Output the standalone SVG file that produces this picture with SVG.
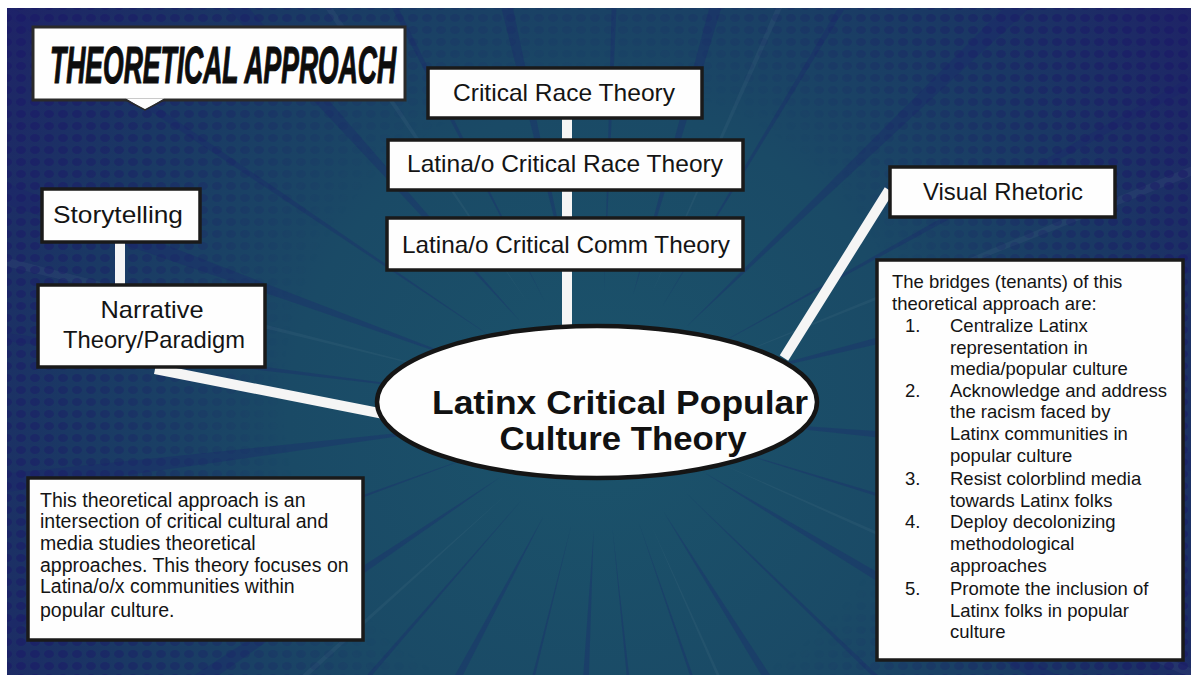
<svg xmlns="http://www.w3.org/2000/svg" xmlns:xlink="http://www.w3.org/1999/xlink" width="1191" height="675" viewBox="0 0 1191 675">
<defs>
<style>
.box{fill:#fefefe;stroke:#1a1a1a;stroke-width:3.5}
.lbl{font-family:"Liberation Sans",Arial,sans-serif;font-size:24px;fill:#141414;text-anchor:middle}
.body{font-family:"Liberation Sans",Arial,sans-serif;font-size:19.5px;fill:#141414}
.conn{stroke:#f5f5f5;stroke-width:10;stroke-linecap:butt;fill:none}
.ray{fill:#1c1f70;opacity:0.28}
.rayl{fill:#ffffff;opacity:0.04}
</style>
<clipPath id="bgclip"><rect x="7" y="8" width="1184" height="667"/></clipPath>
<radialGradient id="bg" cx="600" cy="420" r="740" gradientUnits="userSpaceOnUse">
<stop offset="0" stop-color="#1b536b"/>
<stop offset="0.42" stop-color="#1a4a66"/>
<stop offset="0.72" stop-color="#1a3864"/>
<stop offset="1" stop-color="#1f2167"/>
</radialGradient>
<radialGradient id="mg" cx="600" cy="400" r="700" gradientUnits="userSpaceOnUse">
<stop offset="0.45" stop-color="#000"/>
<stop offset="1" stop-color="#fff"/>
</radialGradient>
<mask id="dotmask"><rect x="0" y="0" width="1191" height="675" fill="url(#mg)"/></mask>
<pattern id="dots" x="0" y="0" width="14" height="12" patternUnits="userSpaceOnUse">
<ellipse cx="7" cy="6" rx="5" ry="4" fill="#1b1a68"/>
</pattern>
<polygon id="ray" points="120,0 950,-16 950,16"/>
<polygon id="rayn" points="120,0 950,-7 950,7"/>
</defs>
<rect width="1191" height="675" fill="#ffffff"/>
<g id="background" clip-path="url(#bgclip)">
<rect x="7" y="8" width="1184" height="667" fill="url(#bg)"/>
<g transform="translate(600,410)">
<use href="#ray" class="ray" transform="rotate(5)"/>
<use href="#rayn" class="ray" transform="rotate(17)"/>
<use href="#ray" class="ray" transform="rotate(31)"/>
<use href="#rayn" class="ray" transform="rotate(44)"/>
<use href="#ray" class="ray" transform="rotate(58)"/>
<use href="#rayn" class="ray" transform="rotate(71)"/>
<use href="#rayn" class="ray" transform="rotate(84)"/>
<use href="#ray" class="ray" transform="rotate(93)"/>
<use href="#rayn" class="ray" transform="rotate(104)"/>
<use href="#ray" class="ray" transform="rotate(118)"/>
<use href="#rayn" class="ray" transform="rotate(131)"/>
<use href="#ray" class="ray" transform="rotate(146)"/>
<use href="#rayn" class="ray" transform="rotate(160)"/>
<use href="#ray" class="ray" transform="rotate(173)"/>
<use href="#rayn" class="ray" transform="rotate(187)"/>
<use href="#ray" class="ray" transform="rotate(200)"/>
<use href="#rayn" class="ray" transform="rotate(214)"/>
<use href="#ray" class="ray" transform="rotate(228)"/>
<use href="#rayn" class="ray" transform="rotate(243)"/>
<use href="#ray" class="ray" transform="rotate(257)"/>
<use href="#rayn" class="ray" transform="rotate(272)"/>
<use href="#ray" class="ray" transform="rotate(286)"/>
<use href="#rayn" class="ray" transform="rotate(301)"/>
<use href="#ray" class="ray" transform="rotate(316)"/>
<use href="#rayn" class="ray" transform="rotate(331)"/>
<use href="#ray" class="ray" transform="rotate(346)"/>
<use href="#rayn" class="rayl" transform="rotate(24)"/>
<use href="#rayn" class="rayl" transform="rotate(66)"/>
<use href="#rayn" class="rayl" transform="rotate(138)"/>
<use href="#rayn" class="rayl" transform="rotate(194)"/>
<use href="#rayn" class="rayl" transform="rotate(236)"/>
<use href="#rayn" class="rayl" transform="rotate(294)"/>
<use href="#rayn" class="rayl" transform="rotate(338)"/>
</g>
<rect x="7" y="8" width="1184" height="667" fill="url(#dots)" mask="url(#dotmask)" opacity="0.7"/>
</g>
<g id="connectors">
<line class="conn" x1="567" y1="116" x2="567" y2="142"/>
<line class="conn" x1="567" y1="188" x2="567" y2="220"/>
<line class="conn" x1="567" y1="268" x2="567" y2="332"/>
<line class="conn" x1="120" y1="240" x2="120" y2="287"/>
<line class="conn" x1="155" y1="369" x2="384" y2="414" stroke-width="11"/>
<line class="conn" x1="889" y1="190" x2="784" y2="358"/>
</g>
<g id="title">
<rect x="33" y="27" width="372" height="73" fill="#fefefe" stroke="#2a2a2a" stroke-width="3"/>
<polygon points="126,98.5 164,98.5 145,110" fill="#fefefe"/>
<polyline points="126,100 145,110 164,100" fill="none" stroke="#2a2a2a" stroke-width="1.5"/>
<text transform="translate(50,83) scale(0.51,1)" x="0" y="0" font-family="Liberation Sans, Arial, sans-serif" font-size="52" font-weight="bold" font-style="italic" fill="#0d0d0d" stroke="#0d0d0d" stroke-width="1.2">THEORETICAL APPROACH</text>
</g>
<g id="crt">
<rect class="box" x="428" y="68" width="274" height="50"/>
<text class="lbl" x="564" y="101" textLength="222" lengthAdjust="spacingAndGlyphs">Critical Race Theory</text>
</g>
<g id="lcrt">
<rect class="box" x="388" y="140" width="355" height="50"/>
<text class="lbl" x="565" y="172" textLength="316" lengthAdjust="spacingAndGlyphs">Latina/o Critical Race Theory</text>
</g>
<g id="lcct">
<rect class="box" x="387" y="218" width="356" height="52"/>
<text class="lbl" x="566" y="253" textLength="328" lengthAdjust="spacingAndGlyphs">Latina/o Critical Comm Theory</text>
</g>
<g id="storytelling">
<rect class="box" x="42" y="189" width="158" height="53"/>
<text class="lbl" x="118" y="223" textLength="130" lengthAdjust="spacingAndGlyphs">Storytelling</text>
</g>
<g id="narrative">
<rect class="box" x="38" y="285" width="227" height="82"/>
<text class="lbl" x="152" y="318" textLength="103" lengthAdjust="spacingAndGlyphs">Narrative</text>
<text class="lbl" x="154" y="348" textLength="182" lengthAdjust="spacingAndGlyphs">Theory/Paradigm</text>
</g>
<g id="visual-rhetoric">
<rect class="box" x="890" y="167" width="225" height="50"/>
<text class="lbl" x="1003" y="200" textLength="160" lengthAdjust="spacingAndGlyphs">Visual Rhetoric</text>
</g>
<g id="center">
<ellipse cx="597" cy="402" rx="220" ry="76" fill="#fefefe" stroke="#151515" stroke-width="4.5"/>
<text x="620" y="414" text-anchor="middle" textLength="376" lengthAdjust="spacingAndGlyphs" font-family="Liberation Sans, Arial, sans-serif" font-size="34" font-weight="bold" fill="#111">Latinx Critical Popular</text>
<text x="623" y="450" text-anchor="middle" textLength="247" lengthAdjust="spacingAndGlyphs" font-family="Liberation Sans, Arial, sans-serif" font-size="34" font-weight="bold" fill="#111">Culture Theory</text>
</g>
<g id="description">
<rect class="box" x="28" y="478" width="335" height="162"/>
<text class="body" x="40" y="507">This theoretical approach is an</text>
<text class="body" x="40" y="528">intersection of critical cultural and</text>
<text class="body" x="40" y="550">media studies theoretical</text>
<text class="body" x="40" y="572">approaches. This theory focuses on</text>
<text class="body" x="40" y="593">Latina/o/x communities within</text>
<text class="body" x="40" y="617">popular culture.</text>
</g>
<g id="tenants">
<rect class="box" x="877" y="260" width="306" height="400"/>
<g class="body" style="font-size:18.5px">
<text x="892" y="288">The bridges (tenants) of this</text>
<text x="892" y="310">theoretical approach are:</text>
<text x="905" y="332">1.</text>
<text x="950" y="332">Centralize Latinx</text>
<text x="950" y="354">representation in</text>
<text x="950" y="375">media/popular culture</text>
<text x="905" y="397">2.</text>
<text x="950" y="397">Acknowledge and address</text>
<text x="950" y="418">the racism faced by</text>
<text x="950" y="440">Latinx communities in</text>
<text x="950" y="462">popular culture</text>
<text x="905" y="485">3.</text>
<text x="950" y="485">Resist colorblind media</text>
<text x="950" y="507">towards Latinx folks</text>
<text x="905" y="528">4.</text>
<text x="950" y="528">Deploy decolonizing</text>
<text x="950" y="550">methodological</text>
<text x="950" y="572">approaches</text>
<text x="905" y="595">5.</text>
<text x="950" y="595">Promote the inclusion of</text>
<text x="950" y="617">Latinx folks in popular</text>
<text x="950" y="638">culture</text>
</g>
</g>
</svg>
